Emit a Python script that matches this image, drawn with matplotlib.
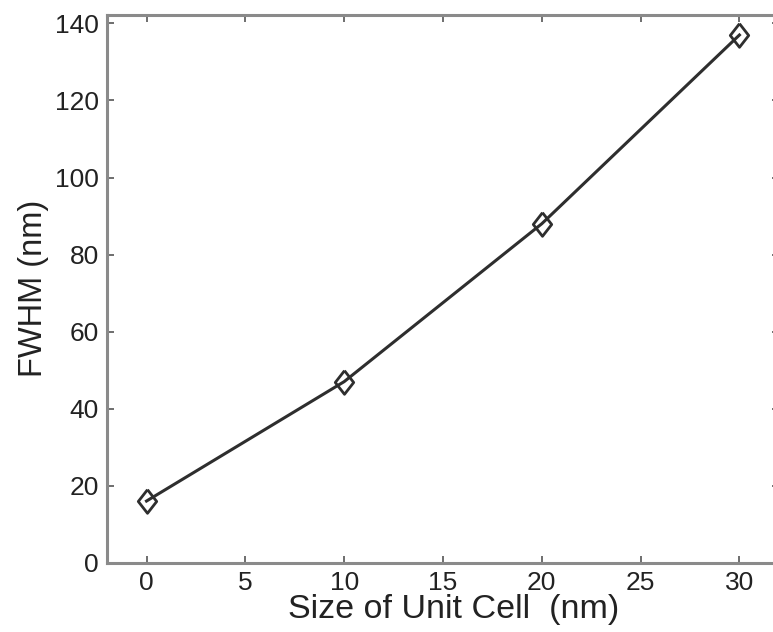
import matplotlib
matplotlib.use("Agg")
import matplotlib.pyplot as plt

# data
cell_size = [0, 10, 20, 30]
fwhm = [16, 47, 88, 137]
x_ticks = [0, 5, 10, 15, 20, 25, 30]
y_ticks = [0, 20, 40, 60, 80, 100, 120, 140]

plt.rcParams['font.family'] = ['Liberation Sans', 'DejaVu Sans']

fig = plt.figure(figsize=(7.73, 6.32), dpi=100)
# right spine sits just past the picture edge in the reference
ax = fig.add_axes([0.1384, 0.1097, 0.8693, 0.8666])

diamond = [(0, 1), (0.78, 0), (0, -1), (-0.78, 0), (0, 1)]
ax.plot(cell_size, fwhm, color='#2e2e2e', linewidth=2.2,
        marker=diamond, markersize=17, markerfacecolor='none',
        markeredgecolor='#2e2e2e', markeredgewidth=2.0)

ax.set_xlim(-2, 32)
ax.set_ylim(0, 142.2)
ax.set_xticks(x_ticks)
ax.set_yticks(y_ticks)

for s in ax.spines.values():
    s.set_color('#8a8a8a')
    s.set_linewidth(2.2)

ax.tick_params(direction='in', length=5, width=1.2, color='#555555',
               labelsize=19, labelcolor='#222222', pad=6,
               top=True, right=True)

ax.set_xlabel('Size of Unit Cell  (nm)', fontsize=24.5, color='#222222')
ax.xaxis.set_label_coords(0.516, -0.058)
ax.set_ylabel('FWHM (nm)', fontsize=23.5, color='#222222', labelpad=4)

fig.savefig('out.png', dpi=100)
